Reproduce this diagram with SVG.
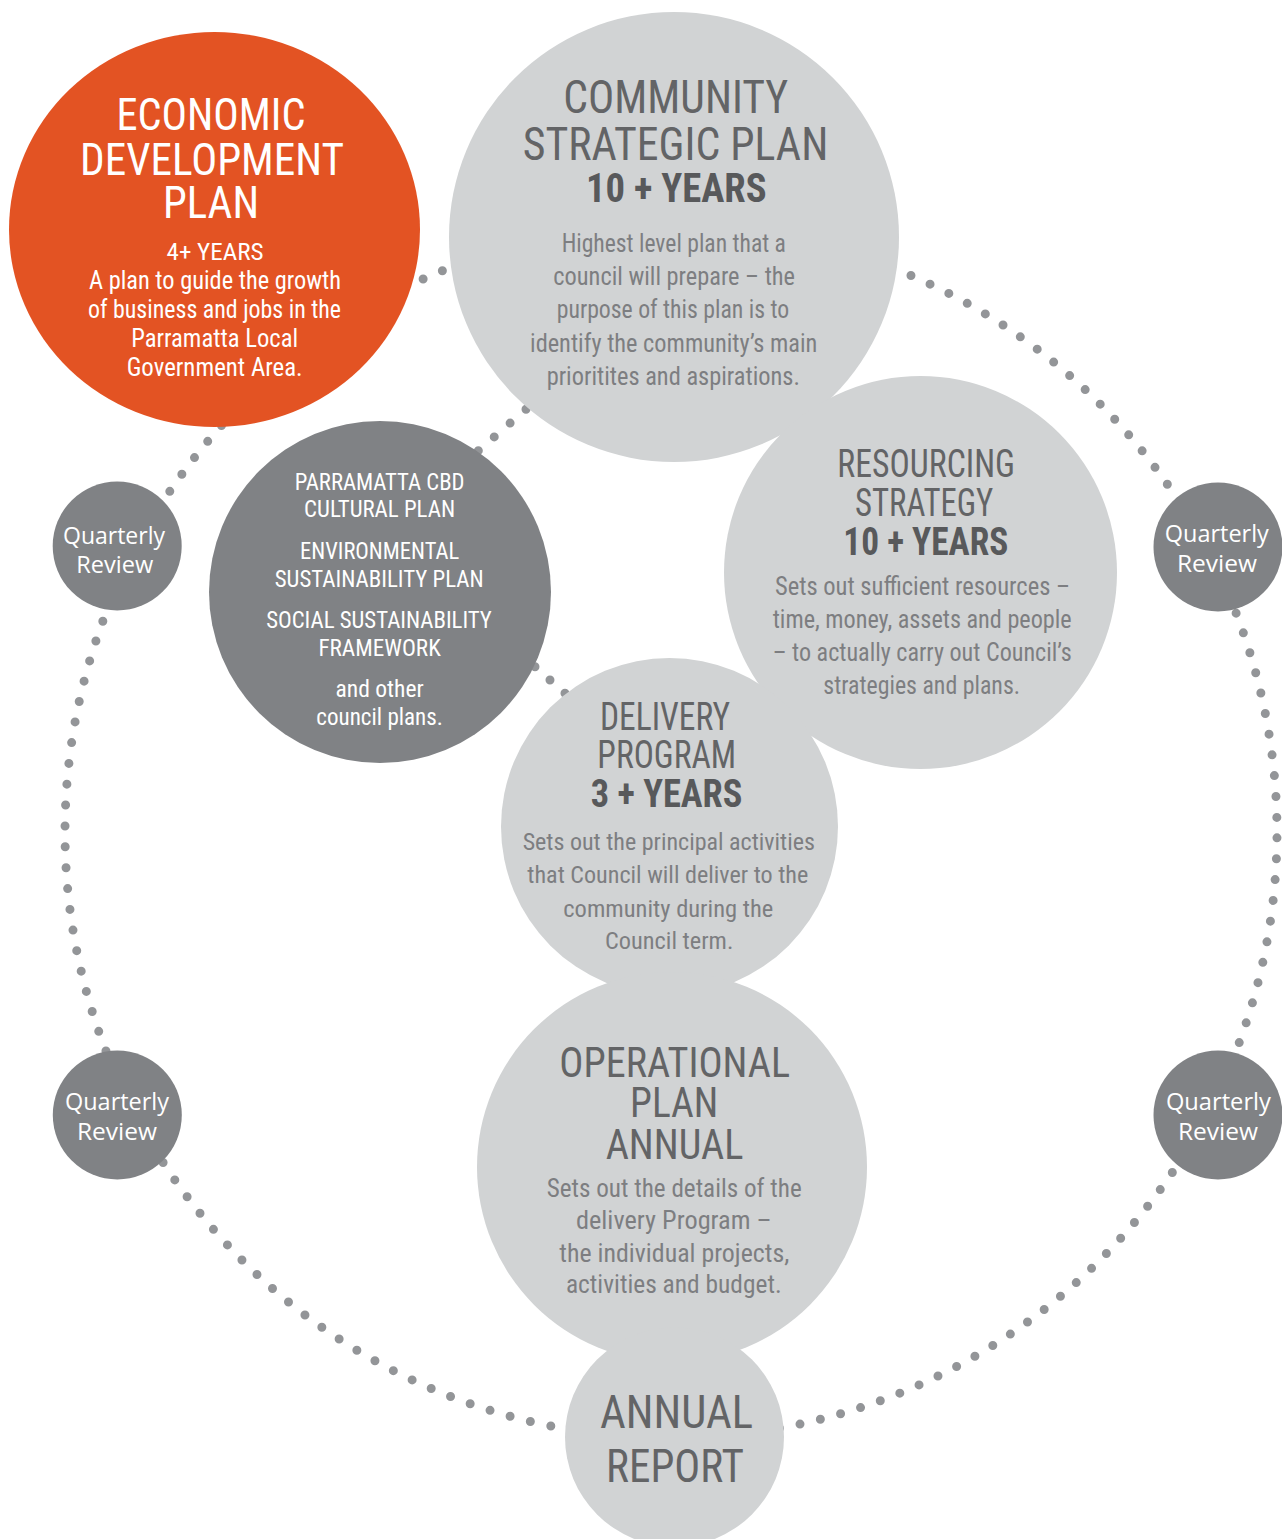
<svg xmlns="http://www.w3.org/2000/svg" width="1282" height="1539" viewBox="0 0 1282 1539">
<style>
.c{font-family:'Liberation Sans Narrow','Roboto Condensed','DejaVu Sans Condensed','Liberation Sans',sans-serif;text-anchor:middle}
.q{font-family:'Open Sans','Liberation Sans',sans-serif;text-anchor:middle;fill:#ffffff;font-size:24px}
.w{fill:#ffffff}
.h{fill:#636466}
.y{fill:#58595b;font-weight:bold}
.s{fill:#7d7e81}
.lg{fill:#d1d3d4}
.dk{fill:#808285}
.or{fill:#e35323}
.dots{fill:none;stroke:#939598;stroke-width:9;stroke-linecap:round}
</style>
<rect width="1282" height="1539" fill="#ffffff"/>
<g id="connectors">
<circle class="dots" cx="671" cy="832" r="606" stroke-dasharray="0 20.921" stroke-dashoffset="15.06"/>
<path class="dots" d="M526,409.3 L478.3,450.7" stroke-dasharray="0 21.04"/>
<path class="dots" d="M535,666.7 L565,693.3" stroke-dasharray="0 20.03"/>
</g>
<g id="economic-development-plan">
<ellipse class="or" cx="214.5" cy="229.5" rx="205.5" ry="197.5"/>
<text class="c w" x="211" y="130" font-size="45" textLength="189" lengthAdjust="spacingAndGlyphs">ECONOMIC</text>
<text class="c w" x="212" y="175" font-size="45" textLength="264" lengthAdjust="spacingAndGlyphs">DEVELOPMENT</text>
<text class="c w" x="211" y="218" font-size="45" textLength="96" lengthAdjust="spacingAndGlyphs">PLAN</text>
<text class="c w" x="215" y="260" font-size="24" textLength="97" lengthAdjust="spacingAndGlyphs">4+ YEARS</text>
<text class="c w" x="215" y="289" font-size="25" textLength="252" lengthAdjust="spacingAndGlyphs">A plan to guide the growth</text>
<text class="c w" x="214.5" y="318" font-size="25" textLength="253" lengthAdjust="spacingAndGlyphs">of business and jobs in the</text>
<text class="c w" x="214.7" y="347" font-size="25" textLength="167" lengthAdjust="spacingAndGlyphs">Parramatta Local</text>
<text class="c w" x="214.7" y="376" font-size="25" textLength="176" lengthAdjust="spacingAndGlyphs">Government Area.</text>
</g>
<g id="community-strategic-plan">
<circle class="lg" cx="674" cy="237" r="225"/>
<text class="c h" x="675.8" y="113" font-size="47" textLength="225" lengthAdjust="spacingAndGlyphs">COMMUNITY</text>
<text class="c h" x="675.5" y="160" font-size="47" textLength="305.6" lengthAdjust="spacingAndGlyphs">STRATEGIC PLAN</text>
<text class="c y" x="676.3" y="202" font-size="40" textLength="180.7" lengthAdjust="spacingAndGlyphs">10 + YEARS</text>
<text class="c s" x="673.8" y="251.7" font-size="25" textLength="224.3" lengthAdjust="spacingAndGlyphs">Highest level plan that a</text>
<text class="c s" x="674.2" y="285" font-size="25" textLength="241.7" lengthAdjust="spacingAndGlyphs">council will prepare – the</text>
<text class="c s" x="673" y="318.3" font-size="25" textLength="232.6" lengthAdjust="spacingAndGlyphs">purpose of this plan is to</text>
<text class="c s" x="673.7" y="351.7" font-size="25" textLength="287.3" lengthAdjust="spacingAndGlyphs">identify the community’s main</text>
<text class="c s" x="673.3" y="385" font-size="25" textLength="253.3" lengthAdjust="spacingAndGlyphs">prioritites and aspirations.</text>
</g>
<g id="resourcing-strategy">
<circle class="lg" cx="920.5" cy="572.5" r="196.5"/>
<text class="c h" x="926.2" y="477" font-size="38" textLength="177.7" lengthAdjust="spacingAndGlyphs">RESOURCING</text>
<text class="c h" x="924.2" y="516" font-size="38" textLength="138.3" lengthAdjust="spacingAndGlyphs">STRATEGY</text>
<text class="c y" x="925.8" y="555" font-size="38" textLength="165" lengthAdjust="spacingAndGlyphs">10 + YEARS</text>
<text class="c s" x="922.5" y="595" font-size="25" textLength="295" lengthAdjust="spacingAndGlyphs">Sets out sufficient resources –</text>
<text class="c s" x="922.2" y="627.5" font-size="25" textLength="299" lengthAdjust="spacingAndGlyphs">time, money, assets and people</text>
<text class="c s" x="922.2" y="661" font-size="25" textLength="299" lengthAdjust="spacingAndGlyphs">– to actually carry out Council’s</text>
<text class="c s" x="921.7" y="694" font-size="25" textLength="196.7" lengthAdjust="spacingAndGlyphs">strategies and plans.</text>
</g>
<g id="delivery-program">
<circle class="lg" cx="669.5" cy="826.5" r="168.5"/>
<text class="c h" x="665" y="730" font-size="39" textLength="130" lengthAdjust="spacingAndGlyphs">DELIVERY</text>
<text class="c h" x="666.7" y="768" font-size="39" textLength="138.7" lengthAdjust="spacingAndGlyphs">PROGRAM</text>
<text class="c y" x="666.5" y="807" font-size="39" textLength="151.6" lengthAdjust="spacingAndGlyphs">3 + YEARS</text>
<text class="c s" x="668.8" y="850" font-size="24" textLength="292.3" lengthAdjust="spacingAndGlyphs">Sets out the principal activities</text>
<text class="c s" x="667.8" y="883.3" font-size="24" textLength="281" lengthAdjust="spacingAndGlyphs">that Council will deliver to the</text>
<text class="c s" x="668.3" y="916.7" font-size="24" textLength="210" lengthAdjust="spacingAndGlyphs">community during the</text>
<text class="c s" x="669.2" y="949.3" font-size="24" textLength="128.3" lengthAdjust="spacingAndGlyphs">Council term.</text>
</g>
<g id="operational-plan">
<circle class="lg" cx="672" cy="1167" r="195"/>
<text class="c h" x="674.7" y="1076.7" font-size="43" textLength="230.7" lengthAdjust="spacingAndGlyphs">OPERATIONAL</text>
<text class="c h" x="674.2" y="1116.7" font-size="43" textLength="88.3" lengthAdjust="spacingAndGlyphs">PLAN</text>
<text class="c h" x="674.5" y="1159.3" font-size="43" textLength="137.7" lengthAdjust="spacingAndGlyphs">ANNUAL</text>
<text class="c s" x="674.2" y="1197.3" font-size="25" textLength="255" lengthAdjust="spacingAndGlyphs">Sets out the details of the</text>
<text class="c s" x="673.8" y="1229.3" font-size="25" textLength="195.7" lengthAdjust="spacingAndGlyphs">delivery Program –</text>
<text class="c s" x="674.3" y="1261.7" font-size="25" textLength="230" lengthAdjust="spacingAndGlyphs">the individual projects,</text>
<text class="c s" x="673.8" y="1293.3" font-size="25" textLength="215.7" lengthAdjust="spacingAndGlyphs">activities and budget.</text>
</g>
<g id="annual-report">
<circle class="lg" cx="674.5" cy="1437" r="109.5"/>
<text class="c h" x="676.5" y="1428" font-size="46" textLength="153" lengthAdjust="spacingAndGlyphs">ANNUAL</text>
<text class="c h" x="675" y="1482" font-size="46" textLength="138" lengthAdjust="spacingAndGlyphs">REPORT</text>
</g>
<g id="council-plans">
<circle class="dk" cx="380" cy="592" r="171"/>
<text class="c w" x="379.6" y="489.5" font-size="23" textLength="169.8" lengthAdjust="spacingAndGlyphs">PARRAMATTA CBD</text>
<text class="c w" x="379.6" y="517" font-size="23" textLength="151" lengthAdjust="spacingAndGlyphs">CULTURAL PLAN</text>
<text class="c w" x="379.6" y="558.5" font-size="23" textLength="159.2" lengthAdjust="spacingAndGlyphs">ENVIRONMENTAL</text>
<text class="c w" x="379.2" y="587" font-size="23" textLength="209" lengthAdjust="spacingAndGlyphs">SUSTAINABILITY PLAN</text>
<text class="c w" x="379" y="627.5" font-size="23" textLength="225.7" lengthAdjust="spacingAndGlyphs">SOCIAL SUSTAINABILITY</text>
<text class="c w" x="379.6" y="655.7" font-size="23" textLength="122.4" lengthAdjust="spacingAndGlyphs">FRAMEWORK</text>
<text class="c w" x="379.6" y="696.8" font-size="24" textLength="88.2" lengthAdjust="spacingAndGlyphs">and other</text>
<text class="c w" x="379.6" y="725.4" font-size="24" textLength="126.5" lengthAdjust="spacingAndGlyphs">council plans.</text>
</g>
<g id="quarterly-review-top-left">
<circle class="dk" cx="117.2" cy="546" r="64.5"/>
<text class="q" x="114" y="544" textLength="102" lengthAdjust="spacingAndGlyphs">Quarterly</text>
<text class="q" x="114.7" y="572.7" textLength="77" lengthAdjust="spacingAndGlyphs">Review</text>
</g>
<g id="quarterly-review-bottom-left">
<circle class="dk" cx="117.3" cy="1115" r="64.5"/>
<text class="q" x="117" y="1110.4" textLength="104" lengthAdjust="spacingAndGlyphs">Quarterly</text>
<text class="q" x="117" y="1140" textLength="80" lengthAdjust="spacingAndGlyphs">Review</text>
</g>
<g id="quarterly-review-top-right">
<circle class="dk" cx="1218" cy="547" r="64.5"/>
<text class="q" x="1216.8" y="541.5" textLength="104" lengthAdjust="spacingAndGlyphs">Quarterly</text>
<text class="q" x="1217" y="572" textLength="80" lengthAdjust="spacingAndGlyphs">Review</text>
</g>
<g id="quarterly-review-bottom-right">
<circle class="dk" cx="1218" cy="1115" r="64.5"/>
<text class="q" x="1218.4" y="1110.4" textLength="105" lengthAdjust="spacingAndGlyphs">Quarterly</text>
<text class="q" x="1218" y="1140" textLength="80" lengthAdjust="spacingAndGlyphs">Review</text>
</g>
</svg>
